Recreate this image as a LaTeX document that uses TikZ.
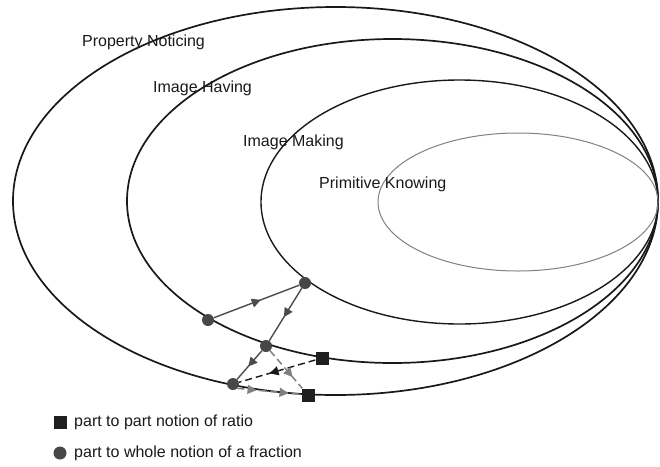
\documentclass[tikz,border=0pt]{standalone}
\usepackage{fontspec}
\setmainfont{Liberation Sans}
\usepackage{tikz}
\usetikzlibrary{arrows.meta,decorations.markings,positioning}

\begin{document}
\begin{tikzpicture}[x=1pt, y=-1pt,
		every node/.style={font=\fontsize{16}{19}\selectfont, text=black!90},
		level/.style={anchor=west, inner sep=0pt},
		ring/.style={draw=black!90, line width=1.7pt},
		dot/.style={circle, fill=black!72, inner sep=0pt, minimum size=12pt},
		blk/.style={rectangle, fill=black!88, inner sep=0pt, minimum size=13pt},
		tip/.style={postaction=decorate, decoration={markings, mark=at position #1 with {\arrow{Triangle[length=9pt,width=9pt]}}}},
		twotips/.style={postaction=decorate, decoration={markings,
			mark=at position 0.3 with {\arrow{Triangle[length=9pt,width=9pt]}},
			mark=at position 0.8 with {\arrow{Triangle[length=9pt,width=9pt]}}}},
		move/.style={draw=black!70, line width=1.4pt, tip=0.55},
		ratio/.style={draw=black!90, line width=1.4pt, dash pattern=on 7pt off 4pt, tip=0.6},
		back/.style={draw=black!50, line width=1.5pt, dash pattern=on 7pt off 4pt}]
	\useasboundingbox (0,0) rectangle (660,466);
	
	% nested levels
	\draw[ring] (335.5,201) ellipse [x radius=322.5pt, y radius=194pt];
	\draw[ring] (392.5,201) ellipse [x radius=265.5pt, y radius=162pt];
	\draw[ring, line width=1.4pt] (459.5,202) ellipse [x radius=198.5pt, y radius=122pt];
	\draw[draw=black!50, line width=1pt] (518,202) ellipse [x radius=140pt, y radius=69pt];
	
	\node[level] (pn) at (82,42) {Property Noticing};
	\node[level] (ih) at (153,88) {Image Having};
	\node[level] (im) at (243,142) {Image Making};
	\node[level] (pk) at (319,184) {Primitive Knowing};
	
	% growth path
	\node[dot] (a) at (208,320) {};
	\node[dot] (b) at (305,283) {};
	\node[dot] (c) at (266,346) {};
	\node[dot] (d) at (233,384) {};
	\node[blk] (r1) at (322,358) {};
	\node[blk] (r2) at (308,395) {};
	
	\draw[move] (a) -- (b);
	\draw[move] (b) -- (c);
	\draw[move] (c) -- (d);
	\draw[ratio] (r1) -- (d);
	\draw[back, tip=0.7] (c) -- (r2);
	\draw[back, twotips] (d.south east) -- (r2);
	
	% key
	\node[blk] (kr) at (60,422) {};
	\node[right=4pt of kr] (krt) {part to part notion of ratio};
	\node[dot, minimum size=13pt] (kf) at (60,453) {};
	\node[right=4pt of kf] (kft) {part to whole notion of a fraction};
\end{tikzpicture}
\end{document}
